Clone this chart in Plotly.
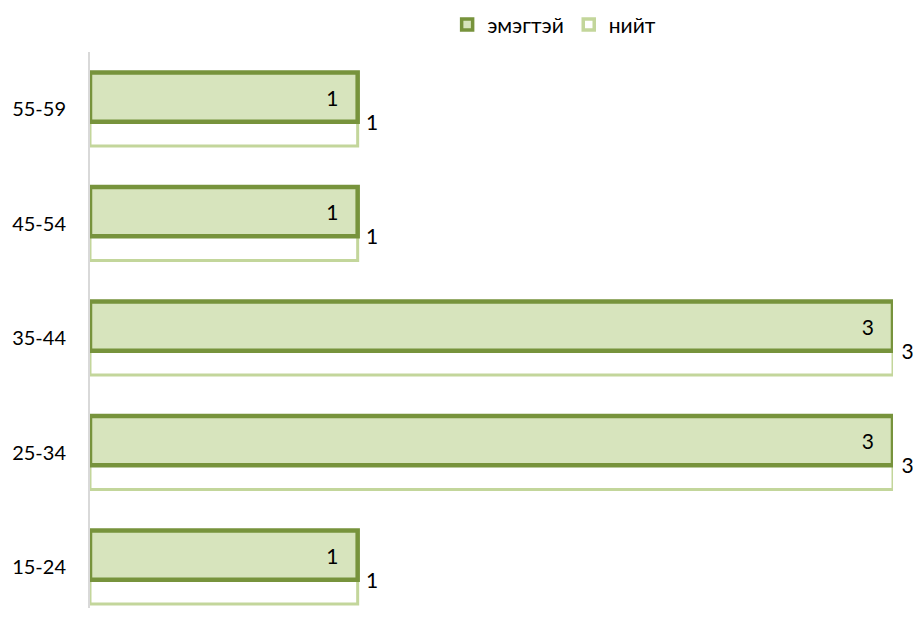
import plotly.graph_objects as go

# age groups, bottom to top
age_groups = ["15-24", "25-34", "35-44", "45-54", "55-59"]
female_counts = [1, 3, 3, 1, 1]
total_counts = [1, 3, 3, 1, 1]

FONT = "Lato, 'Open Sans', sans-serif"
DARK_GREEN = "#77933C"
LIGHT_FILL = "#D7E4BD"
LIGHT_LINE = "#C3D69B"

fig = go.Figure()

# total bar sits behind, shifted down
fig.add_trace(
    go.Bar(
        name="нийт",
        y=age_groups,
        x=total_counts,
        orientation="h",
        width=0.43,
        offset=-0.32,
        marker=dict(color="white", line=dict(color=LIGHT_LINE, width=3)),
        text=total_counts,
        texttemplate=" %{x}",
        textposition="outside",
        outsidetextfont=dict(color="black", size=21, family=FONT),
        cliponaxis=False,
        showlegend=False,
    )
)

fig.add_trace(
    go.Bar(
        name="эмэгтэй",
        y=age_groups,
        x=female_counts,
        orientation="h",
        width=0.43,
        offset=-0.11,
        marker=dict(color=LIGHT_FILL, line=dict(color=DARK_GREEN, width=4.5)),
        text=female_counts,
        texttemplate="%{x}   ",
        textposition="inside",
        insidetextanchor="end",
        insidetextfont=dict(color="black", size=21, family=FONT),
        cliponaxis=False,
        showlegend=False,
    )
)

# legend swatches (bar legend caps the border width)
for name, fill, edge in [("эмэгтэй", LIGHT_FILL, DARK_GREEN), ("нийт", "white", LIGHT_LINE)]:
    fig.add_trace(
        go.Scatter(
            name=name,
            x=[None],
            y=[None],
            mode="markers",
            marker=dict(symbol="square", size=11, color=fill, line=dict(color=edge, width=3.5)),
        )
    )

# page body has an 8px margin: keep the figure inside the window without scrollbars
fig.update_layout(
    width=913,
    height=600,
    barmode="overlay",
    plot_bgcolor="white",
    paper_bgcolor="white",
    font=dict(family=FONT, size=21, color="black"),
    margin=dict(l=82, r=28, t=44, b=0, autoexpand=False),
    showlegend=True,
    legend=dict(
        orientation="h",
        x=0.578,
        xanchor="center",
        yref="container",
        y=0.972,
        yanchor="middle",
        font=dict(size=21),
        itemwidth=30,
        itemsizing="trace",
    ),
)

fig.update_xaxes(range=[0, 3], showticklabels=False, showgrid=False, zeroline=False, showline=False)
fig.update_yaxes(
    range=[-0.356, 4.5],
    showgrid=False,
    zeroline=False,
    showline=True,
    linecolor="#D9D9D9",
    linewidth=2,
    ticks="",
    tickfont=dict(size=20),
    ticklabelstandoff=18,
    automargin=False,
)

fig.write_html("out.html")
